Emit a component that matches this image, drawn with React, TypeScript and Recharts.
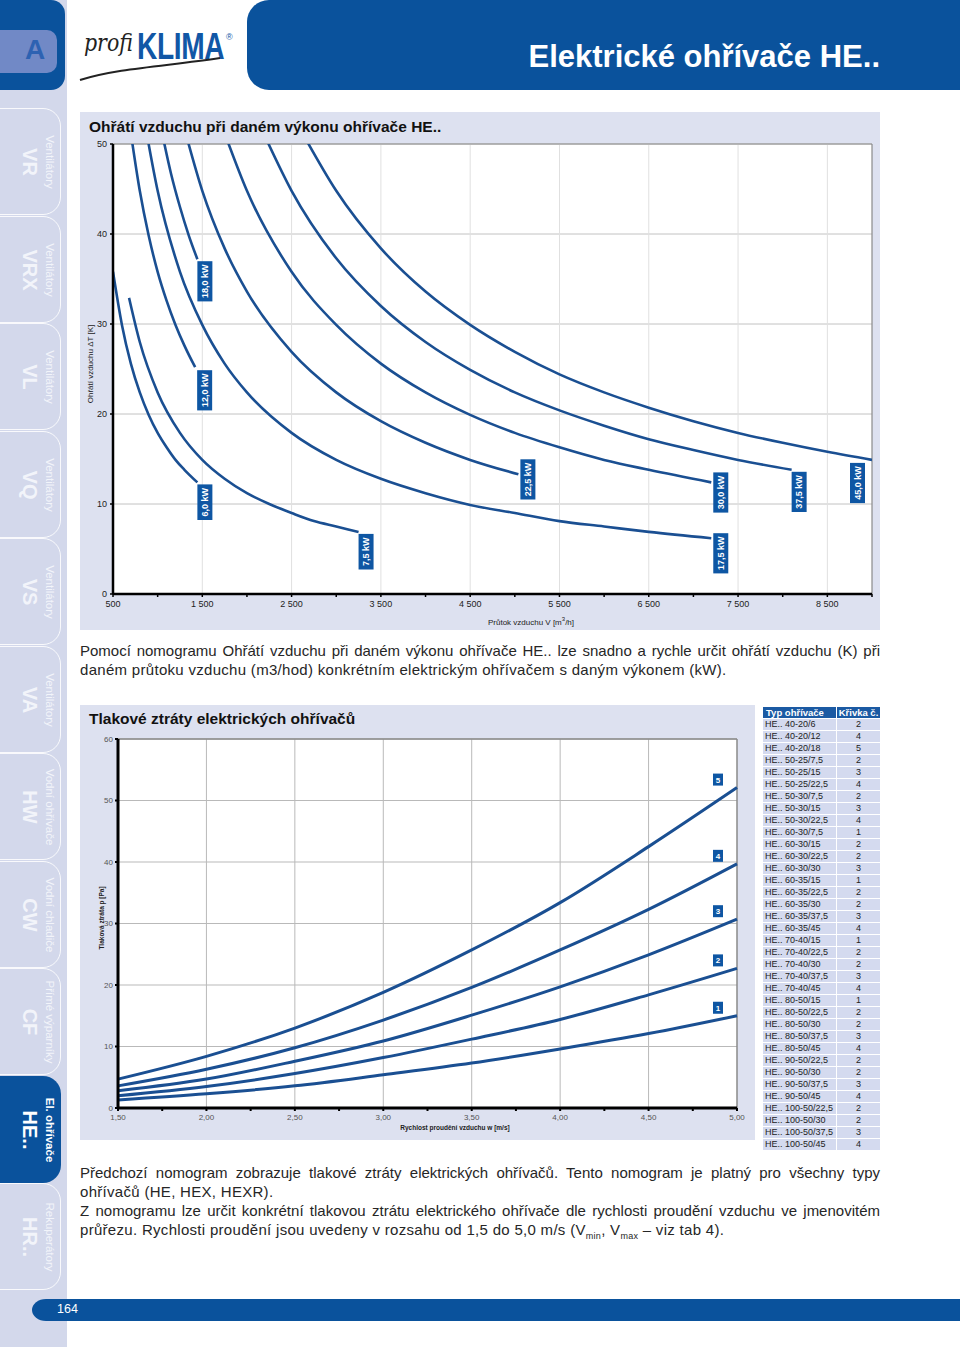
import React from "react";
import { LineChart, Line, XAxis, YAxis, CartesianGrid, ReferenceLine, ReferenceDot } from "recharts";

const FONT = "'Liberation Sans', Arial, Helvetica, sans-serif";
const BLUE = "#0a529c";
const CURVE = "#1a4f92";
const TAG = "#0e56a3";
const PANEL = "#dde1f0";

// --- nomogram 1: air flow V [m3/h] vs. temperature rise dT [K], per heater power
const kw6: [number, number][] = [[500, 35.8], [600, 29.9], [700, 25.6], [800, 22.4], [900, 19.9], [1000, 17.9], [1100, 16.3], [1200, 14.9], [1300, 13.8], [1445, 12.4]];
const kw7_5: [number, number][] = [[680, 32.9], [800, 28.0], [1000, 22.4], [1250, 17.9], [1500, 14.9], [1750, 12.8], [2000, 11.2], [2250, 10.0], [2500, 9.0], [2750, 8.1], [3000, 7.5], [3250, 6.9]];
const kw12: [number, number][] = [[700, 51.2], [800, 44.8], [900, 39.8], [1000, 35.8], [1100, 32.6], [1200, 29.9], [1300, 27.6], [1420, 25.2]];
const kw17_5: [number, number][] = [[850, 52.7], [1000, 44.8], [1250, 35.8], [1500, 29.9], [1750, 25.6], [2000, 22.4], [2500, 17.9], [3000, 14.9], [3500, 12.8], [4000, 11.2], [4500, 9.9], [5000, 9.0], [5500, 8.1], [6000, 7.5], [6500, 6.9], [7200, 6.2]];
const kw18: [number, number][] = [[1050, 51.2], [1150, 46.7], [1250, 43.0], [1350, 39.8], [1445, 37.2]];
const kw22_5: [number, number][] = [[1300, 51.7], [1500, 44.8], [1750, 38.4], [2000, 33.6], [2500, 26.9], [3000, 22.4], [3500, 19.2], [4000, 16.8], [4500, 14.9], [5040, 13.3]];
const kw30: [number, number][] = [[1750, 51.2], [2000, 44.8], [2500, 35.8], [3000, 29.9], [3500, 25.6], [4000, 22.4], [4500, 19.9], [5000, 17.9], [5500, 16.3], [6000, 14.9], [6500, 13.8], [7200, 12.4]];
const kw37_5: [number, number][] = [[2200, 50.9], [2500, 44.8], [3000, 37.3], [3500, 32.0], [4000, 28.0], [4500, 24.9], [5000, 22.4], [5500, 20.4], [6000, 18.7], [6500, 17.2], [7000, 16.0], [7500, 14.9], [8100, 13.8]];
const kw45: [number, number][] = [[2650, 50.7], [3000, 44.8], [3500, 38.4], [4000, 33.6], [4500, 29.9], [5000, 26.9], [5500, 24.4], [6000, 22.4], [6500, 20.7], [7000, 19.2], [7500, 17.9], [8000, 16.8], [8500, 15.8], [9000, 14.9]];

const flowTicks = [500, 1000, 1500, 2000, 2500, 3000, 3500, 4000, 4500, 5000, 5500, 6000, 6500, 7000, 7500, 8000, 8500, 9000];
const flowGrid = [1500, 2500, 3500, 4500, 5500, 6500, 7500, 8500];
const riseTicks = [0, 10, 20, 30, 40, 50];

// --- nomogram 2: air speed w [m/s] vs. pressure loss p [Pa], curves 1..5
const speed = [1.5, 2.0, 2.5, 3.0, 3.5, 4.0, 4.5, 5.0];
const loss1 = [1.3, 2.3, 3.6, 5.4, 7.3, 9.6, 12.1, 15.0];
const loss2 = [2.0, 3.5, 5.6, 8.2, 11.2, 14.4, 18.4, 22.7];
const loss3 = [2.8, 4.7, 7.6, 10.9, 15.1, 19.7, 24.9, 30.7];
const loss4 = [3.6, 6.3, 9.8, 14.3, 19.6, 25.7, 32.3, 39.7];
const loss5 = [4.7, 8.4, 13.0, 18.8, 25.7, 33.4, 42.5, 52.1];

const speedTicks = [1.5, 1.75, 2.0, 2.25, 2.5, 2.75, 3.0, 3.25, 3.5, 3.75, 4.0, 4.25, 4.5, 4.75, 5.0];
const speedGrid = [2.0, 2.5, 3.0, 3.5, 4.0, 4.5];
const lossTicks = [0, 10, 20, 30, 40, 50, 60];

// --- heater table
const heaterTypes = [
  "HE.. 40-20/6", "HE.. 40-20/12", "HE.. 40-20/18", "HE.. 50-25/7,5", "HE.. 50-25/15", "HE.. 50-25/22,5",
  "HE.. 50-30/7,5", "HE.. 50-30/15", "HE.. 50-30/22,5", "HE.. 60-30/7,5", "HE.. 60-30/15", "HE.. 60-30/22,5",
  "HE.. 60-30/30", "HE.. 60-35/15", "HE.. 60-35/22,5", "HE.. 60-35/30", "HE.. 60-35/37,5", "HE.. 60-35/45",
  "HE.. 70-40/15", "HE.. 70-40/22,5", "HE.. 70-40/30", "HE.. 70-40/37,5", "HE.. 70-40/45", "HE.. 80-50/15",
  "HE.. 80-50/22,5", "HE.. 80-50/30", "HE.. 80-50/37,5", "HE.. 80-50/45", "HE.. 90-50/22,5", "HE.. 90-50/30",
  "HE.. 90-50/37,5", "HE.. 90-50/45", "HE.. 100-50/22,5", "HE.. 100-50/30", "HE.. 100-50/37,5", "HE.. 100-50/45",
];
const heaterCurve = [2, 4, 5, 2, 3, 4, 2, 3, 4, 1, 2, 2, 3, 1, 2, 2, 3, 4, 1, 2, 2, 3, 4, 1, 2, 2, 3, 4, 2, 2, 3, 4, 2, 2, 3, 4];

const tabCodes = ["VR", "VRX", "VL", "VQ", "VS", "VA", "HW", "CW", "CF", "HE..", "HR.."];
const tabGroups = ["Ventilátory", "Ventilátory", "Ventilátory", "Ventilátory", "Ventilátory", "Ventilátory", "Vodní ohřívače", "Vodní chladiče", "Přímé výparníky", "El. ohřívače", "Rekuperátory"];

const powerCurves = [
  { pts: kw6, name: "6,0 kW", dx: 0, dy: 2 },
  { pts: kw7_5, name: "7,5 kW", dx: 0, dy: 2 },
  { pts: kw12, name: "12,0 kW", dx: 2, dy: 3 },
  { pts: kw17_5, name: "17,5 kW", dx: 2, dy: -5 },
  { pts: kw18, name: "18,0 kW", dx: 0, dy: 2 },
  { pts: kw22_5, name: "22,5 kW", dx: 2, dy: -15 },
  { pts: kw30, name: "30,0 kW", dx: 2, dy: -10 },
  { pts: kw37_5, name: "37,5 kW", dx: 0, dy: 2 },
  { pts: kw45, name: "45,0 kW", dx: -22, dy: 3 },
];

const lossData = speed.map((w, i) => ({ w, p1: loss1[i], p2: loss2[i], p3: loss3[i], p4: loss4[i], p5: loss5[i] }));
const lossSeries = [
  { key: "p1", vals: loss1, name: "1" },
  { key: "p2", vals: loss2, name: "2" },
  { key: "p3", vals: loss3, name: "3" },
  { key: "p4", vals: loss4, name: "4" },
  { key: "p5", vals: loss5, name: "5" },
];

const fmtFlow = (v: number) => {
  if ((v - 500) % 1000 !== 0 || v >= 9000) return "";
  if (v < 1000) return String(v);
  return `${Math.floor(v / 1000)} ${String(v % 1000).padStart(3, "0")}`;
};
const fmtSpeed = (v: number) => (Math.round(v * 100) % 50 === 0 ? v.toFixed(2).replace(".", ",") : "");

function KwTag(props: any) {
  const { cx, cy, name, dx, dy } = props;
  const h = 8 + name.length * 4.6;
  const x = cx + dx;
  const y = cy + dy;
  return (
    <g>
      <rect x={x} y={y} width={15} height={h} fill={TAG} />
      <text
        x={x + 7.5}
        y={y + h / 2}
        transform={`rotate(-90 ${x + 7.5} ${y + h / 2})`}
        textAnchor="middle"
        dominantBaseline="central"
        fill="#fff"
        fontSize={9}
        fontWeight="bold"
        fontFamily={FONT}
      >
        {name}
      </text>
    </g>
  );
}

function CurveTag(props: any) {
  const { cx, cy, name } = props;
  const x = cx - 24;
  const y = cy - 14;
  return (
    <g>
      <rect x={x} y={y} width={10} height={12} fill={TAG} />
      <text x={x + 5} y={y + 6.5} textAnchor="middle" dominantBaseline="central" fill="#fff" fontSize={8} fontWeight="bold" fontFamily={FONT}>
        {name}
      </text>
    </g>
  );
}

const HeatChart = () => (
  <LineChart width={800} height={518} margin={{ top: 32, right: 8, bottom: 0, left: 0 }}>
    <CartesianGrid vertical={false} stroke="#c2c2c2" fill="#fff" />
    {flowGrid.map((g) => (
      <ReferenceLine key={g} x={g} stroke="#e0e0e0" />
    ))}
    <ReferenceLine y={50} stroke="#8a8a8a" strokeWidth={1.2} />
    <ReferenceLine x={9000} stroke="#8a8a8a" strokeWidth={1.2} />
    <XAxis
      dataKey="v"
      type="number"
      domain={[500, 9000]}
      allowDataOverflow
      ticks={flowTicks}
      interval={0}
      tickFormatter={fmtFlow}
      height={36}
      tickSize={3}
      tickMargin={4}
      axisLine={{ stroke: "#000", strokeWidth: 2.5 }}
      tickLine={{ stroke: "#000", strokeWidth: 1.5 }}
      tick={{ fontSize: 9, fill: "#222", fontFamily: FONT }}
    />
    <YAxis
      type="number"
      domain={[0, 50]}
      allowDataOverflow
      ticks={riseTicks}
      interval={0}
      width={33}
      tickSize={3}
      tickMargin={3}
      axisLine={{ stroke: "#000", strokeWidth: 2.5 }}
      tickLine={{ stroke: "#000", strokeWidth: 1.5 }}
      tick={{ fontSize: 9, fill: "#222", fontFamily: FONT }}
    />
    {powerCurves.map((c) => (
      <Line
        key={c.name}
        data={c.pts.map(([v, t]) => ({ v, t }))}
        dataKey="t"
        type="monotone"
        stroke={CURVE}
        strokeWidth={2.6}
        dot={false}
        activeDot={false}
        isAnimationActive={false}
      />
    ))}
    {powerCurves.map((c) => {
      const last = c.pts[c.pts.length - 1];
      return (
        <ReferenceDot
          key={"tag" + c.name}
          x={last[0]}
          y={last[1]}
          r={0}
          shape={(p: any) => <KwTag cx={p.cx} cy={p.cy} name={c.name} dx={c.dx} dy={c.dy} />}
        />
      );
    })}
  </LineChart>
);

const LossChart = () => (
  <LineChart width={675} height={435} data={lossData} margin={{ top: 34, right: 18, bottom: 0, left: 0 }}>
    <CartesianGrid vertical={false} stroke="#b9b9b9" fill="#fff" />
    {speedGrid.map((g) => (
      <ReferenceLine key={g} x={g} stroke="#b9b9b9" />
    ))}
    <ReferenceLine y={60} stroke="#8a8a8a" strokeWidth={1.5} />
    <ReferenceLine x={5} stroke="#8a8a8a" strokeWidth={1.5} />
    <XAxis
      dataKey="w"
      type="number"
      domain={[1.5, 5]}
      ticks={speedTicks}
      interval={0}
      tickFormatter={fmtSpeed}
      height={32}
      tickSize={3}
      tickMargin={3}
      axisLine={{ stroke: "#000", strokeWidth: 3 }}
      tickLine={{ stroke: "#000", strokeWidth: 2 }}
      tick={{ fontSize: 8, fill: "#555", fontFamily: FONT }}
    />
    <YAxis
      type="number"
      domain={[0, 60]}
      ticks={lossTicks}
      interval={0}
      width={38}
      tickSize={3}
      tickMargin={2}
      axisLine={{ stroke: "#000", strokeWidth: 3 }}
      tickLine={{ stroke: "#000", strokeWidth: 2 }}
      tick={{ fontSize: 8, fill: "#555", fontFamily: FONT }}
    />
    {lossSeries.map((s) => (
      <Line
        key={s.key}
        dataKey={s.key}
        type="monotone"
        stroke={CURVE}
        strokeWidth={3}
        dot={false}
        activeDot={false}
        isAnimationActive={false}
      />
    ))}
    {lossSeries.map((s) => (
      <ReferenceDot
        key={"tag" + s.key}
        x={speed[speed.length - 1]}
        y={s.vals[s.vals.length - 1]}
        r={0}
        shape={(p: any) => <CurveTag cx={p.cx} cy={p.cy} name={s.name} />}
      />
    ))}
  </LineChart>
);

const abs = (s: React.CSSProperties): React.CSSProperties => ({ position: "absolute", ...s });

const Rotated = ({ x, y, children, style }: any) => (
  <div style={abs({ left: x, top: y, transform: "translate(-50%, -50%) rotate(90deg)", whiteSpace: "nowrap", ...style })}>{children}</div>
);

const Sidebar = () => (
  <>
    <div style={abs({ left: 0, top: 0, width: 67, height: 1347, background: "#d3d8eb" })} />
    {tabCodes.map((code, i) => {
      const top = 108 + i * 107.5;
      const active = code === "HE..";
      return (
        <div key={code}>
          <div
            style={abs({
              left: -12,
              top,
              width: 73,
              height: 107,
              boxSizing: "border-box",
              border: active ? "none" : "1.5px solid rgba(255,255,255,0.85)",
              borderRadius: "0 18px 18px 0",
              background: active ? BLUE : "transparent",
            })}
          />
          <Rotated x={29} y={top + 54} style={{ fontSize: 20, fontWeight: "bold", color: active ? "#fff" : "#f2f4fa" }}>
            {code}
          </Rotated>
          <Rotated x={50} y={top + 54} style={{ fontSize: 11.5, fontWeight: active ? "bold" : "normal", color: active ? "#fff" : "#f2f4fa" }}>
            {tabGroups[i]}
          </Rotated>
        </div>
      );
    })}
  </>
);

const TextLine = ({ top, justify, children }: any) => (
  <div
    style={abs({
      left: 80,
      top,
      width: 800,
      fontSize: 15,
      lineHeight: "19px",
      color: "#262626",
      whiteSpace: "nowrap",
      letterSpacing: justify ? 0 : 0.3,
      textAlign: justify ? "justify" : "left",
      textAlignLast: justify ? "justify" : "left",
    })}
  >
    {children}
  </div>
);

export default function App() {
  return (
    <div style={abs({ left: 0, top: 0, width: 960, height: 1347, background: "#fff", fontFamily: FONT, overflow: "hidden" })}>
      <Sidebar />

      {/* top left "A" tab */}
      <div style={abs({ left: 0, top: 0, width: 65, height: 90, background: BLUE, borderRadius: "0 14px 14px 0" })} />
      <div style={abs({ left: 0, top: 30, width: 57, height: 43, background: "#7189c6", borderRadius: "0 10px 10px 0" })} />
      <div style={abs({ left: 20, top: 34, width: 30, fontSize: 28, fontWeight: "bold", color: "#2d62b2", textAlign: "center" })}>A</div>

      {/* logo */}
      <div style={abs({ left: 84, top: 28, fontFamily: "'DejaVu Serif', serif", fontStyle: "italic", fontSize: 25, color: "#222", transform: "scaleX(0.82)", transformOrigin: "left" })}>profi</div>
      <div style={abs({ left: 137, top: 26, fontSize: 37, fontWeight: "bold", color: "#1157a6", transform: "scaleX(0.76)", transformOrigin: "left", letterSpacing: -0.5 })}>KLIMA</div>
      <div style={abs({ left: 226, top: 32, fontSize: 9, color: "#1157a6" })}>®</div>
      <svg style={abs({ left: 78, top: 50, width: 160, height: 35 })}>
        <path d="M2 30 C 40 18, 90 16, 142 8" stroke="#222" strokeWidth={2} fill="none" />
      </svg>

      {/* title bar */}
      <div style={abs({ left: 247, top: 0, width: 713, height: 90, background: BLUE, borderRadius: "22px 0 0 22px" })} />
      <div style={abs({ left: 380, top: 39, width: 500, textAlign: "right", fontSize: 31, fontWeight: "bold", color: "#fff" })}>
        Elektrické ohřívače HE..
      </div>

      {/* nomogram 1 */}
      <div style={abs({ left: 80, top: 112, width: 800, height: 518, background: PANEL })}>
        <div style={abs({ left: 9, top: 6, fontSize: 15.5, fontWeight: "bold", color: "#111" })}>Ohřátí vzduchu při daném výkonu ohřívače HE..</div>
        <div style={abs({ left: 0, top: 0 })}>
          <HeatChart />
        </div>
        <Rotated x={10} y={252} style={{ fontSize: 8, color: "#222", transform: "translate(-50%, -50%) rotate(-90deg)" }}>
          Ohřátí vzduchu ΔT [K]
        </Rotated>
        <div style={abs({ left: 351, top: 504, width: 200, textAlign: "center", fontSize: 8, color: "#222" })}>
          Průtok vzduchu V [m<sup style={{ fontSize: 6 }}>3</sup>/h]
        </div>
      </div>

      <TextLine top={641} justify>
        Pomocí nomogramu Ohřátí vzduchu při daném výkonu ohřívače HE.. lze snadno a rychle určit ohřátí vzduchu (K) při
      </TextLine>
      <TextLine top={660}>daném průtoku vzduchu (m3/hod) konkrétním elektrickým ohřívačem s daným výkonem (kW).</TextLine>

      {/* nomogram 2 */}
      <div style={abs({ left: 80, top: 705, width: 675, height: 435, background: PANEL })}>
        <div style={abs({ left: 9, top: 5, fontSize: 15.5, fontWeight: "bold", color: "#111" })}>Tlakové ztráty elektrických ohřívačů</div>
        <div style={abs({ left: 0, top: 0 })}>
          <LossChart />
        </div>
        <Rotated x={21} y={213} style={{ fontSize: 6.5, fontWeight: "bold", color: "#222", transform: "translate(-50%, -50%) rotate(-90deg)" }}>
          Tlaková ztráta p [Pa]
        </Rotated>
        <div style={abs({ left: 275, top: 419, width: 200, textAlign: "center", fontSize: 6.5, fontWeight: "bold", color: "#222" })}>
          Rychlost proudění vzduchu w [m/s]
        </div>
      </div>

      {/* heater table */}
      <table style={abs({ left: 762, top: 706, width: 118, borderCollapse: "collapse", fontSize: 9, tableLayout: "fixed" })}>
        <colgroup>
          <col style={{ width: 74 }} />
          <col style={{ width: 44 }} />
        </colgroup>
        <thead>
          <tr style={{ height: 12, background: "#1b5aa3", color: "#fff", fontWeight: "bold" }}>
            <th style={{ padding: "0 0 0 3px", textAlign: "left", fontSize: 9.5, lineHeight: "11px", border: "1px solid #fff" }}>Typ ohřívače</th>
            <th style={{ padding: 0, textAlign: "center", fontSize: 9.5, lineHeight: "11px", border: "1px solid #fff" }}>Křivka č.</th>
          </tr>
        </thead>
        <tbody>
          {heaterTypes.map((t, i) => (
            <tr key={t} style={{ height: 12, background: "#d4daef", color: "#222" }}>
              <td style={{ padding: "0 0 0 2px", lineHeight: "11px", border: "1px solid #fff", whiteSpace: "nowrap", overflow: "hidden" }}>{t}</td>
              <td style={{ padding: 0, lineHeight: "11px", textAlign: "center", border: "1px solid #fff" }}>{heaterCurve[i]}</td>
            </tr>
          ))}
        </tbody>
      </table>

      <TextLine top={1163} justify>
        Předchozí nomogram zobrazuje tlakové ztráty elektrických ohřívačů. Tento nomogram je platný pro všechny typy
      </TextLine>
      <TextLine top={1182}>ohřívačů (HE, HEX, HEXR).</TextLine>
      <TextLine top={1201} justify>
        Z nomogramu lze určit konkrétní tlakovou ztrátu elektrického ohřívače dle rychlosti proudění vzduchu ve jmenovitém
      </TextLine>
      <TextLine top={1220}>
        průřezu. Rychlosti proudění jsou uvedeny v rozsahu od 1,5 do 5,0 m/s (V<sub style={{ fontSize: 9 }}>min</sub>, V
        <sub style={{ fontSize: 9 }}>max</sub> – viz tab 4).
      </TextLine>

      {/* footer */}
      <div style={abs({ left: 32, top: 1299, width: 928, height: 22, background: BLUE, borderRadius: "14px 0 0 14px / 11px 0 0 11px" })} />
      <div style={abs({ left: 57, top: 1302, fontSize: 12.5, color: "#fff" })}>164</div>
    </div>
  );
}
